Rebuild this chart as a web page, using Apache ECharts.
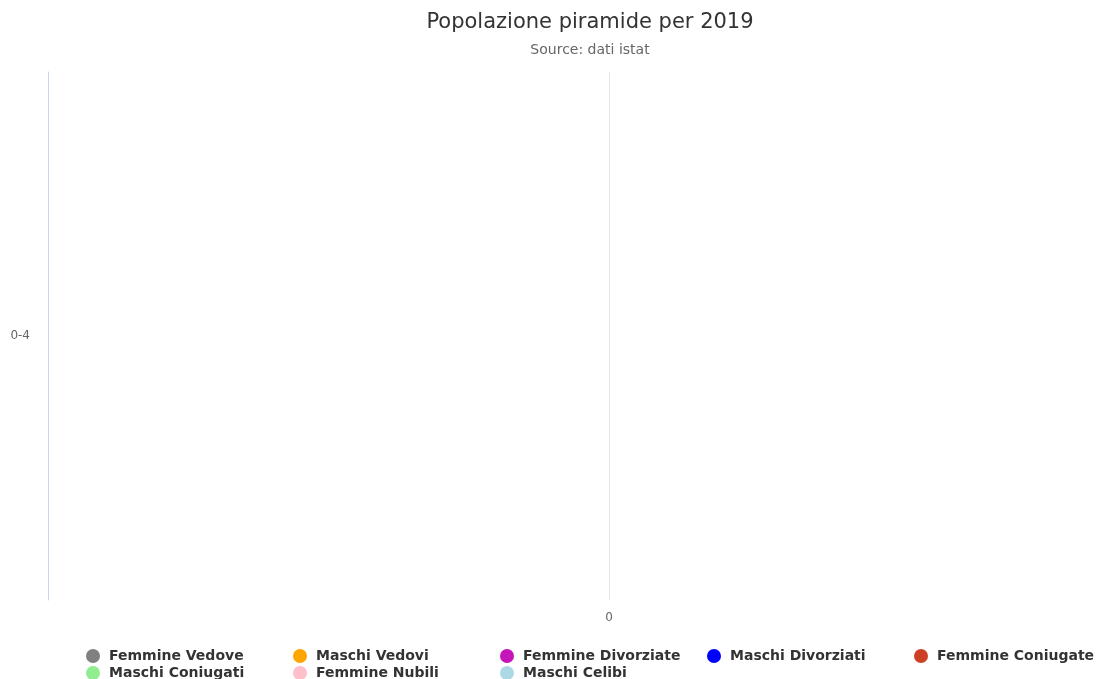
<!DOCTYPE html>
<html>
<head>
<meta charset="utf-8">
<script src="https://cdn.jsdelivr.net/npm/echarts@6/dist/echarts.min.js"></script>
<style>
html,body{margin:0;padding:0;background:#fff;}
#chart{width:1096px;height:679px;}
</style>
</head>
<body>
<div id="chart"></div>
<script>
const categories = ['0-4'];
const seriesNames = ['Femmine Vedove','Maschi Vedovi','Femmine Divorziate','Maschi Divorziati','Femmine Coniugate','Maschi Coniugati','Femmine Nubili','Maschi Celibi'];
const seriesColors = ['#808080','#FFA500','#C514B9','#0000FF','#CC4125','#90EE90','#FFC0CB','#ADD8E6'];
const femmineVedove = [0];
const maschiVedovi = [0];
const femmineDivorziate = [0];
const maschiDivorziati = [0];
const femmineConiugate = [0];
const maschiConiugati = [0];
const femmineNubili = [0];
const maschiCelibi = [0];
const seriesValues = [femmineVedove, maschiVedovi, femmineDivorziate, maschiDivorziati, femmineConiugate, maschiConiugati, femmineNubili, maschiCelibi];

const chart = echarts.init(document.getElementById('chart'));
const font = 'DejaVu Sans';
const legends = seriesNames.map((n, i) => ({
  orient: 'horizontal',
  left: 86 + (i % 5) * 207,
  top: i < 5 ? 649 : 666,
  padding: 0,
  icon: 'circle',
  itemWidth: 22,
  itemHeight: 14,
  data: [n],
  textStyle: {fontFamily: font, fontSize: 14, fontWeight: 'bold', color: '#333'}
}));
chart.setOption({
  animation: false,
  backgroundColor: '#fff',
  title: [
    {text: 'Popolazione piramide per 2019', left: 585, textAlign: 'center', top: 7,
     textStyle: {fontFamily: font, fontSize: 21, fontWeight: 'normal', color: '#333'}},
    {text: 'Source: dati istat', left: 585, textAlign: 'center', top: 38,
     textStyle: {fontFamily: font, fontSize: 14, fontWeight: 'normal', color: '#666'}}
  ],
  legend: legends,
  grid: {left: 48, top: 72, right: 0, height: 528, containLabel: false},
  xAxis: {
    type: 'value', min: -561, max: 487, interval: 561,
    axisLine: {show: false}, axisTick: {show: false},
    splitLine: {show: true, lineStyle: {color: ['rgba(0,0,0,0)', '#e6e6e6', 'rgba(0,0,0,0)'], width: 1}},
    axisLabel: {
      showMinLabel: false, showMaxLabel: false, margin: 12,
      fontFamily: font, fontSize: 12, color: '#666',
      formatter: v => (v === 0 ? '0' : '')
    }
  },
  yAxis: {
    type: 'category', data: categories,
    axisLine: {show: true, onZero: false, lineStyle: {color: '#ccd6eb', width: 1}},
    axisTick: {show: false},
    axisLabel: {margin: 18, fontFamily: font, fontSize: 12, color: '#666'}
  },
  series: seriesNames.map((n, i) => ({
    name: n, type: 'bar', stack: 'total',
    itemStyle: {color: seriesColors[i]},
    data: seriesValues[i]
  }))
});
</script>
</body>
</html>
